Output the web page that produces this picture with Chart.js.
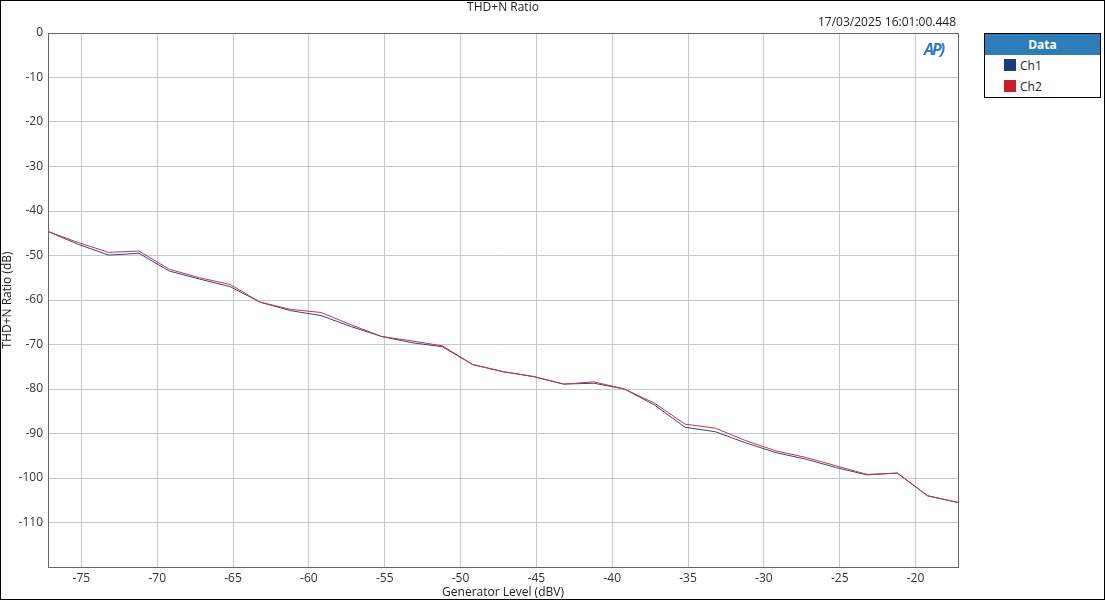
<!DOCTYPE html>
<html>
<head>
<meta charset="utf-8">
<script src="https://cdn.jsdelivr.net/npm/chart.js@4.4.1/dist/chart.umd.min.js"></script>
<style>
  body { margin: 0; background: #fff; font-family: "Open Sans", sans-serif; }
  #wrap { position: relative; width: 1105px; height: 600px; }
  #chart { position: absolute; left: 0; top: 0; }
  .txt { position: absolute; font-size: 12px; color: #222; white-space: nowrap; }
  #title { left: 0; width: 1006px; top: -2px; text-align: center; }
  #stamp { right: 149px; top: 13px; }
  #logo { position: absolute; left: 924px; top: 38px; font: italic bold 16px "Open Sans", sans-serif; color: #2e7bc4; letter-spacing: -2px; }
  #legend { position: absolute; left: 984px; top: 33px; width: 115px; height: 63px; border: 1px solid #000; background: #fff; font-size: 12px; }
  #legend .head { background: #2f7db8; color: #fff; font-weight: bold; text-align: center; height: 21px; line-height: 21px; }
  #legend .row { position: relative; height: 21px; line-height: 21px; padding-left: 35px; color: #222; }
  #legend .sw { position: absolute; left: 19px; top: 4px; width: 12px; height: 12px; }
  #frame { position: absolute; left: 0; top: 0; width: 1103px; height: 598px; border: 1px solid #000; pointer-events: none; }
</style>
</head>
<body>
<div id="wrap">
  <canvas id="chart" width="1105" height="600"></canvas>
  <div class="txt" id="title">THD+N Ratio</div>
  <div class="txt" id="stamp">17/03/2025 16:01:00.448</div>
  <div id="logo">AP)</div>
  <div id="legend">
    <div class="head">Data</div>
    <div class="row"><span class="sw" style="background:#1b3a7c"></span>Ch1</div>
    <div class="row"><span class="sw" style="background:#c8202a"></span>Ch2</div>
  </div>
  <div id="frame"></div>
</div>
<script>
// Generator level (dBV), one reading every 2 dB
const levels = [-77.2, -75.2, -73.2, -71.2, -69.2, -67.2, -65.2, -63.2, -61.2, -59.2,
                -57.2, -55.2, -53.2, -51.2, -49.2, -47.2, -45.2, -43.2, -41.2, -39.2,
                -37.2, -35.2, -33.2, -31.2, -29.2, -27.2, -25.2, -23.2, -21.2, -19.2, -17.2];

// THD+N ratio (dB)
const ch1 = [-44.6, -47.5, -49.9, -49.5, -53.5, -55.3, -57.0, -60.5, -62.4, -63.5,
             -66.0, -68.2, -69.6, -70.5, -74.5, -76.1, -77.2, -78.9, -78.7, -80.0,
             -83.6, -88.6, -89.6, -92.1, -94.3, -95.8, -97.7, -99.3, -98.9, -104.0, -105.5];
const ch2 = [-44.6, -47.1, -49.3, -49.0, -53.1, -55.0, -56.5, -60.5, -62.1, -62.8,
             -65.6, -68.2, -69.2, -70.3, -74.5, -76.1, -77.2, -78.9, -78.4, -80.0,
             -83.2, -87.9, -88.8, -91.6, -93.9, -95.4, -97.3, -99.2, -98.9, -104.0, -105.5];

const xTicks = [-75, -70, -65, -60, -55, -50, -45, -40, -35, -30, -25, -20];
const yTicks = [0, -10, -20, -30, -40, -50, -60, -70, -80, -90, -100, -110, -120];

const toPoints = vals => vals.map((v, i) => ({ x: levels[i], y: v }));
const tickFont = { family: '"Open Sans", sans-serif', size: 12 };

new Chart(document.getElementById('chart'), {
    type: 'line',
    data: {
        datasets: [
            { label: 'Ch2', data: toPoints(ch2), borderColor: '#d0303c', borderWidth: 1, pointRadius: 0, tension: 0 },
            { label: 'Ch1', data: toPoints(ch1), borderColor: '#2a4690', borderWidth: 1, pointRadius: 0, tension: 0 }
        ]
    },
    options: {
        responsive: false,
        animation: false,
        layout: { padding: { top: 33, right: 147, left: 0, bottom: 0 } },
        plugins: { legend: { display: false }, tooltip: { enabled: false } },
        scales: {
            x: {
                type: 'linear',
                min: levels[0],
                max: levels[levels.length - 1],
                afterBuildTicks: s => { s.ticks = xTicks.map(v => ({ value: v })); },
                afterFit: s => { s.height = 33; },
                grid: { color: '#c8c8c8', drawTicks: false },
                border: { color: '#666' },
                ticks: { color: '#333', font: tickFont, padding: 4, maxRotation: 0 },
                title: { display: true, text: 'Generator Level (dBV)', color: '#222', font: tickFont, padding: { top: 0, bottom: 0 } }
            },
            y: {
                min: -120,
                max: 0,
                afterBuildTicks: s => { s.ticks = yTicks.map(v => ({ value: v })); },
                afterFit: s => { s.width = 48; },
                grid: { color: '#c8c8c8', drawTicks: false },
                border: { color: '#666' },
                ticks: { color: '#333', font: tickFont, padding: 5, callback: v => v === -120 ? '' : v },
                title: { display: true, text: 'THD+N Ratio (dB)', color: '#222', font: tickFont, padding: { top: 0, bottom: 0 } }
            }
        }
    },
    plugins: [{
        id: 'plotFrame',
        afterDraw(chart) {
            const a = chart.chartArea, c = chart.ctx;
            c.save();
            c.strokeStyle = '#666';
            c.lineWidth = 1;
            c.strokeRect(Math.round(a.left) + 0.5, Math.round(a.top) + 0.5, Math.round(a.right - a.left), Math.round(a.bottom - a.top));
            c.restore();
        }
    }]
});
</script>
</body>
</html>
